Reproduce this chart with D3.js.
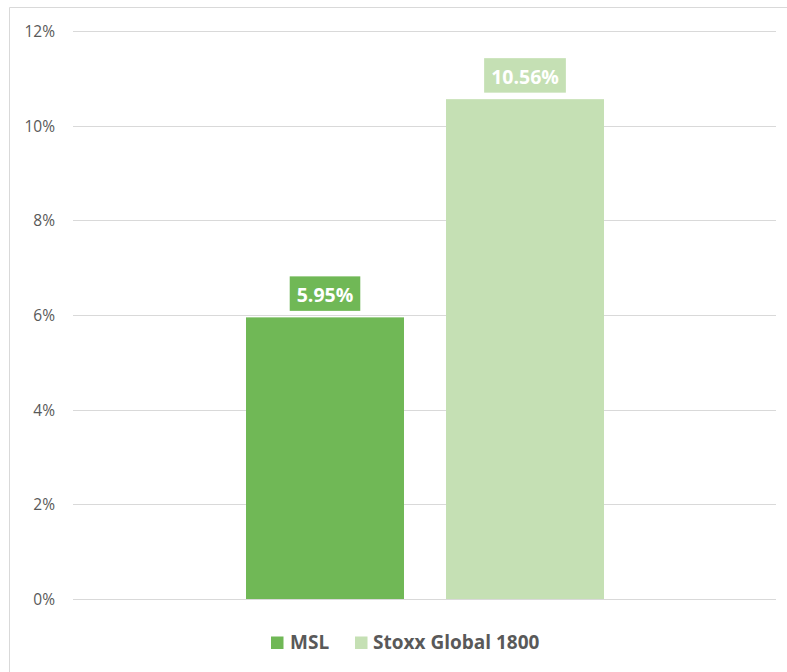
<!DOCTYPE html>
<html><head><meta charset="utf-8">
<script src="https://cdn.jsdelivr.net/npm/d3@7"></script>
<style>body{margin:0;background:#fff;} svg{display:block;font-family:"Open Sans",sans-serif;}</style>
</head><body>
<script>
const categories = ["MSL", "Stoxx Global 1800"];
const values = [5.95, 10.56];
const labels = ["5.95%", "10.56%"];
const colors = ["#70b856", "#c5e0b4"];
const yTicks = [0, 2, 4, 6, 8, 10, 12];

(function () {
const W = 787, H = 672;
const svg = d3.select("body").append("svg").attr("width", W).attr("height", H);

// chart border (top and left visible)
svg.append("path").attr("d", `M9.5,${H} L9.5,7.5 L${W},7.5`).attr("fill","none").attr("stroke","#d9d9d9").attr("stroke-width",1);

const pLeft = 73, pRight = 776, pTop = 31, pBottom = 599;
const y = d3.scaleLinear().domain([0, 12]).range([pBottom, pTop]);
const x = d3.scaleBand().domain(categories).range([pLeft + 173, pRight - 172]).paddingInner(0.21).paddingOuter(0);

// gridlines
svg.append("g").selectAll("line").data(yTicks).join("line")
  .attr("x1", pLeft).attr("x2", pRight)
  .attr("y1", d => Math.round(y(d)) + 0.5).attr("y2", d => Math.round(y(d)) + 0.5)
  .attr("stroke", "#d9d9d9").attr("stroke-width", 1);

const yAxis = d3.axisLeft(y).tickValues(yTicks).tickFormat(d => d + "%").tickSize(0).tickPadding(0);
const ga = svg.append("g").attr("transform", `translate(55,0)`).call(yAxis);
ga.select(".domain").remove();
ga.selectAll("text").attr("font-size", 15.5).attr("fill", "#595959").attr("font-family", "'Open Sans', sans-serif").attr("dy", "0.36em");

// bars
svg.append("g").selectAll("rect").data(values).join("rect")
  .attr("x", (d, i) => x(categories[i]))
  .attr("width", x.bandwidth())
  .attr("y", d => y(d))
  .attr("height", d => y(0) - y(d))
  .attr("fill", (d, i) => colors[i]);

// labels with background boxes
const lg = svg.append("g");
values.forEach((v, i) => {
  const cx = x(categories[i]) + x.bandwidth() / 2;
  const by = y(v) - 6.5;
  const t = lg.append("text").attr("x", cx).attr("y", by - 8.4)
    .attr("text-anchor", "middle").attr("font-size", 19.5).attr("font-weight", "bold")
    .attr("fill", "#fff").text(labels[i]);
  const bb = t.node().getBBox();
  lg.insert("rect", "text").attr("x", bb.x - 7).attr("y", by - 34.5).attr("width", bb.width + 14).attr("height", 34.5)
    .attr("fill", colors[i]);
});

// legend
const leg = svg.append("g");
const legItems = [{x: 271, tx: 290}, {x: 355, tx: 373}];
categories.forEach((c, i) => {
  leg.append("rect").attr("x", legItems[i].x).attr("y", 636.5).attr("width", 12.5).attr("height", 12.5).attr("fill", colors[i]);
  leg.append("text").attr("x", legItems[i].tx).attr("y", 649).attr("font-size", 19).attr("font-weight", "bold")
    .attr("fill", "#595959").text(c);
});
})();
</script>
</body></html>
